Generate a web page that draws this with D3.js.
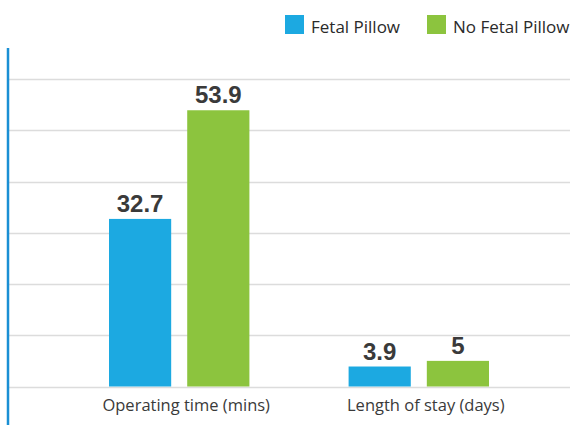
<!DOCTYPE html>
<html>
<head>
<meta charset="utf-8">
<script src="https://cdn.jsdelivr.net/npm/d3@7"></script>
<style>
  body { margin: 0; background: #fff; }
  svg { display: block; }
  .cat { font-family: "Open Sans", sans-serif; font-size: 16.5px; font-weight: 500; fill: #3a3a3a; }
  .leg { font-family: "Open Sans", sans-serif; font-size: 17px; font-weight: 500; fill: #2a2a2a; }
  .val { font-family: "Liberation Sans", Arial, sans-serif; font-weight: bold; font-size: 24px; fill: #3a3a3a; }
</style>
</head>
<body>
<svg id="chart" width="570" height="425"></svg>
<script>
// values
var categories = ['Operating time (mins)', 'Length of stay (days)'];
var series = ['Fetal Pillow', 'No Fetal Pillow'];
var fetalPillow = [32.7, 3.9];
var noFetalPillow = [53.9, 5];
var colors = ['#1ca9e1', '#8cc43e'];

var data = categories.map(function(c, i) {
  return { cat: c, values: [fetalPillow[i], noFetalPillow[i]] };
});

var svg = d3.select('#chart');

var y = d3.scaleLinear().domain([0, 60]).range([386.5, 79]);

// outer band = the group of two bars, inner band = one bar
var x0 = d3.scaleBand().domain(categories).range([109, 489]).paddingInner(0.414).paddingOuter(0);
var x1 = d3.scaleBand().domain(series).range([0, x0.bandwidth()]).paddingInner(0.205);

// gridlines
svg.append('g')
  .selectAll('line')
  .data(y.ticks(6))
  .enter()
  .append('line')
  .attr('x1', 9)
  .attr('x2', 570)
  .attr('y1', d => Math.round(y(d)) + 0.5)
  .attr('y2', d => Math.round(y(d)) + 0.5)
  .attr('stroke', '#dcdcdc')
  .attr('stroke-width', 1.5);

// left axis line
svg.append('line')
  .attr('x1', 8).attr('x2', 8)
  .attr('y1', 48).attr('y2', 425)
  .attr('stroke', '#1a8fd4')
  .attr('stroke-width', 2.5);

var groups = svg.selectAll('g.group')
  .data(data)
  .enter()
  .append('g')
  .attr('class', 'group')
  .attr('transform', d => 'translate(' + x0(d.cat) + ',0)');

var bars = groups.selectAll('g.bar')
  .data(d => d.values.map((v, i) => ({ key: series[i], value: v, i: i })))
  .enter()
  .append('g')
  .attr('class', 'bar');

bars.append('rect')
  .attr('x', d => x1(d.key))
  .attr('y', d => y(d.value))
  .attr('width', x1.bandwidth())
  .attr('height', d => y(0) - y(d.value))
  .attr('fill', d => colors[d.i]);

bars.append('text')
  .attr('class', 'val')
  .attr('text-anchor', 'middle')
  .attr('x', d => x1(d.key) + x1.bandwidth() / 2)
  .attr('y', d => y(d.value) - 7)
  .text(d => d.value);

// category labels
groups.append('text')
  .attr('class', 'cat')
  .attr('text-anchor', 'middle')
  .attr('x', x0.bandwidth() / 2 + 7)
  .attr('y', 411)
  .text(d => d.cat);

// legend
var legendX = [285, 427];
var legend = svg.selectAll('g.legend')
  .data(series)
  .enter()
  .append('g')
  .attr('class', 'legend')
  .attr('transform', (d, i) => 'translate(' + legendX[i] + ',15)');

legend.append('rect')
  .attr('width', 19)
  .attr('height', 19)
  .attr('fill', (d, i) => colors[i]);

legend.append('text')
  .attr('class', 'leg')
  .attr('x', 26)
  .attr('y', 18)
  .text(d => d);
</script>
</body>
</html>
